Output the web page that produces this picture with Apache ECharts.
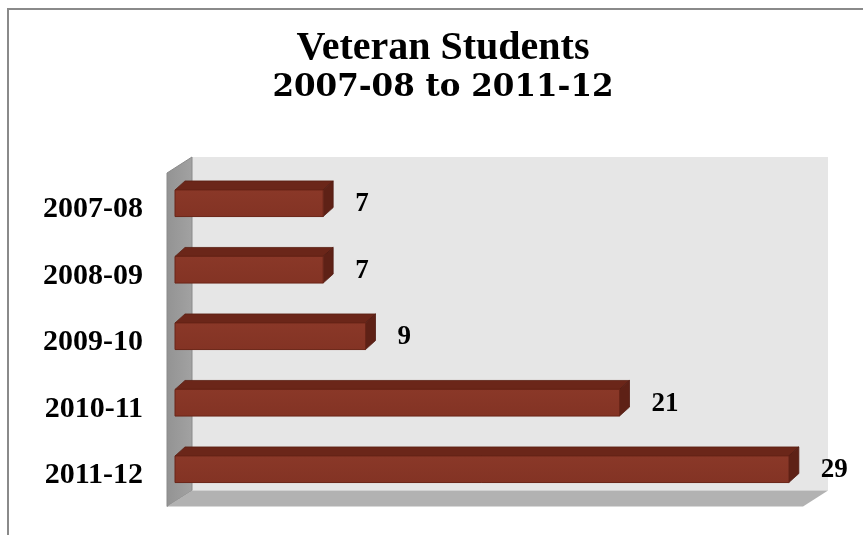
<!DOCTYPE html>
<html>
<head>
<meta charset="utf-8">
<script src="https://cdn.jsdelivr.net/npm/echarts@6/dist/echarts.min.js"></script>
<style>
html,body{margin:0;padding:0;background:#fff;}
#chart{width:863px;height:535px;}
</style>
</head>
<body>
<div id="chart"></div>
<script>
const categories = ['2007-08', '2008-09', '2009-10', '2010-11', '2011-12'];
const values = [7, 7, 9, 21, 29];
const titleLines = ['Veteran Students', '2007-08 to 2011-12'];

const chart = echarts.init(document.getElementById('chart'));

const DX = 10, DY = 9;        // bar depth
const WDX = 25, WDY = 16;     // wall depth

function renderWalls(params, api) {
  const cs = params.coordSys;
  const x0 = cs.x - 8;
  const yb = cs.y + cs.height + 4;
  const x1 = cs.x + cs.width - 7;
  const ytop = cs.y - 13;
  return {
    type: 'group',
    children: [
      { type: 'rect', shape: { x: x0 + WDX, y: ytop, width: x1 - x0, height: (yb - WDY) - ytop },
        style: { fill: '#e6e6e6' } },
      { type: 'polygon', shape: { points: [[x0, ytop + WDY], [x0 + WDX, ytop], [x0 + WDX, yb - WDY], [x0, yb]] },
        style: { fill: new echarts.graphic.LinearGradient(0, 0, 1, 0, [{offset: 0, color: '#939393'}, {offset: 1, color: '#a2a2a2'}]),
                 stroke: '#8a8a8a', lineWidth: 1 } },
      { type: 'polygon', shape: { points: [[x0, yb], [x0 + WDX, yb - WDY], [x1 + WDX, yb - WDY], [x1, yb]] },
        style: { fill: '#b2b2b2' } }
    ]
  };
}

function renderBar(params, api) {
  const v = api.value(0);
  const c = api.value(1);
  const s = api.coord([0, c]);
  const e = api.coord([v, c]);
  const h = api.size([0, 1])[1] * 0.4;
  const x = s[0], w = e[0] - s[0], y = s[1] - h / 2;
  return {
    type: 'group',
    children: [
      { type: 'polygon', shape: { points: [[x, y], [x + DX, y - DY], [x + w + DX, y - DY], [x + w, y]] },
        style: { fill: '#6b2619', stroke: '#5a1f13', lineWidth: 0.8 } },
      { type: 'polygon', shape: { points: [[x + w, y], [x + w + DX, y - DY], [x + w + DX, y + h - DY], [x + w, y + h]] },
        style: { fill: '#5e2116', stroke: '#521b11', lineWidth: 0.8 } },
      { type: 'rect', shape: { x: x, y: y, width: w, height: h },
        style: { fill: new echarts.graphic.LinearGradient(0, 0, 0, 1, [{offset: 0, color: '#8a3828'}, {offset: 1, color: '#833324'}]),
                 stroke: '#6a2518', lineWidth: 1 } },
      { type: 'text',
        style: { text: String(v), x: x + w + 32, y: s[1] + 1, align: 'left', verticalAlign: 'middle',
                 fill: '#000', fontFamily: 'Liberation Serif', fontWeight: 'bold', fontSize: 27 } }
    ]
  };
}

chart.setOption({
  animation: false,
  backgroundColor: '#fff',
  title: {
    text: '{a|' + titleLines[0] + '}\n{b|' + titleLines[1] + '}',
    left: 438,
    textAlign: 'center',
    top: 25,
    textStyle: {
      rich: {
        a: { fontFamily: 'Liberation Serif', fontWeight: 'bold', fontSize: 40, lineHeight: 38, color: '#000', align: 'center' },
        b: { fontFamily: 'DejaVu Serif', fontWeight: 'bold', fontSize: 31, lineHeight: 40, color: '#000', align: 'center' }
      }
    }
  },
  graphic: [
    { type: 'rect', shape: { x: 8, y: 9, width: 900, height: 600 }, style: { fill: 'none', stroke: '#8a8a8a', lineWidth: 2 }, z: 100 }
  ],
  grid: { left: 175, right: 53, top: 170, bottom: 32.5 },
  xAxis: { type: 'value', min: 0, max: 30, show: false },
  yAxis: {
    type: 'category',
    data: categories,
    inverse: true,
    axisLine: { show: false },
    axisTick: { show: false },
    axisLabel: { margin: 32, color: '#000', fontFamily: 'Liberation Serif', fontWeight: 'bold', fontSize: 30,
                 verticalAlign: 'top', lineHeight: 12 }
  },
  series: [
    { type: 'custom', renderItem: renderWalls, data: [[0, 0]], encode: { x: 0, y: 1 }, clip: false, z: 1, silent: true },
    { type: 'custom', renderItem: renderBar, data: values.map((v, i) => [v, i]), encode: { x: 0, y: 1 }, clip: false, z: 2 }
  ]
});
</script>
</body>
</html>
